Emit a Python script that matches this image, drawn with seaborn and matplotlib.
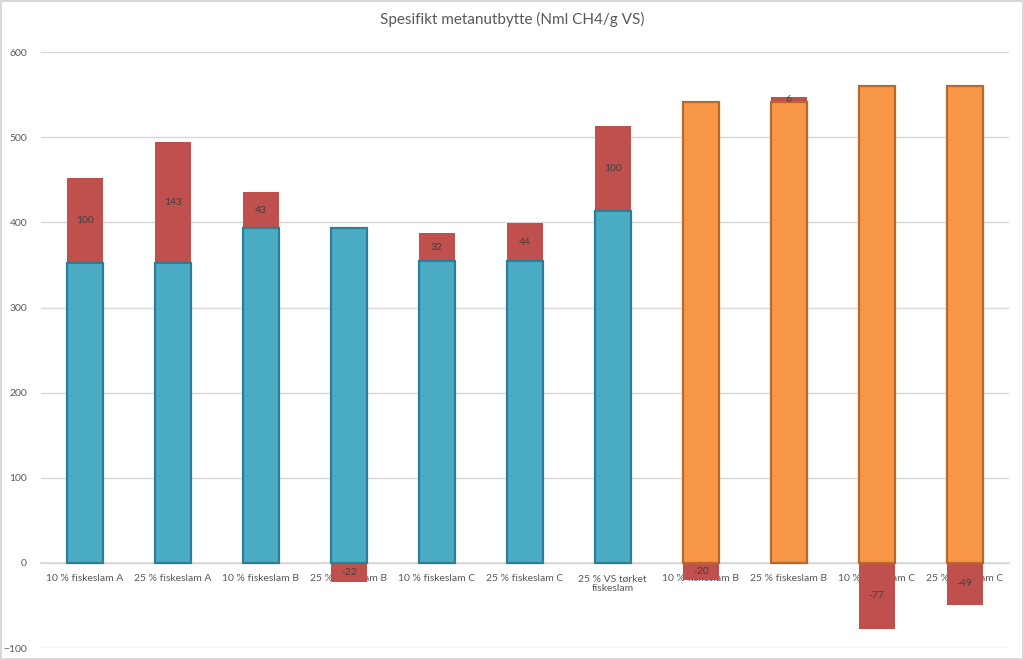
import numpy as np
import pandas as pd
import matplotlib
matplotlib.use('Agg')
import matplotlib.pyplot as plt
import seaborn as sns

# kategorier (navn gjentas, så vi bruker posisjon som nøkkel)
labels = ['10 % fiskeslam A', '25 % fiskeslam A', '10 % fiskeslam B', '25 % fiskeslam B',
          '10 % fiskeslam C', '25 % fiskeslam C', '25 % VS tørket\nfiskeslam',
          '10 % fiskeslam B', '25 % fiskeslam B', '10 % fiskeslam C', '25 % fiskeslam C']
base = [352, 352, 393, 393, 355, 355, 413, 541, 541, 560, 560]
diff = [100, 143, 43, -22, 32, 44, 100, -20, 6, -77, -49]
group = ['blå'] * 7 + ['oransje'] * 4

df = pd.DataFrame({'pos': range(len(labels)), 'base': base, 'diff': diff, 'group': group})
# positive differanser stables oppå basis, negative starter fra 0
df['bottom'] = np.where(df['diff'] > 0, df['base'], 0)

sns.set_theme(style='white')
plt.rcParams['font.family'] = ['Lato', 'DejaVu Sans']
text_col = '#595959'

fig = plt.figure(figsize=(10.24, 6.6), dpi=100)
fig.patch.set_edgecolor('#D9D9D9')
fig.patch.set_linewidth(1.5)
ax = fig.add_axes([0.040, 0.018, 0.945, 0.903])

colors = {'blå': '#4BACC6', 'oransje': '#F79646'}
edges = {'blå': '#2E7F95', 'oransje': '#B8692A'}

# basisstolper
sns.barplot(data=df, x='pos', y='base', hue='group', palette=colors, dodge=False,
            saturation=1, width=0.41, legend=False, ax=ax, zorder=4, linewidth=1.6)
for cont, g in zip(ax.containers, ['blå', 'oransje']):
    for bar in cont:
        bar.set_edgecolor(edges[g])
    ax.bar_label(cont, label_type='center', fontsize=7.5, color='#404040')

n_base = len(ax.containers)
# differanse (rød)
sns.barplot(data=df, x='pos', y='diff', bottom=df['bottom'].values, color='#C0504D',
            saturation=1, width=0.41, ax=ax, zorder=3, linewidth=0)
red = ax.containers[n_base]
ax.bar_label(red, labels=[str(v) for v in diff], label_type='center',
             fontsize=7.5, color='#404040', zorder=5)

ax.set_ylim(-100, 600)
ax.set_xlim(-0.5, len(labels) - 0.5)
ax.set_yticks(range(-100, 601, 100))
ax.set_xticks(range(len(labels)))
ax.set_xticklabels(labels, linespacing=1.35)
ax.tick_params(axis='y', labelsize=7.5, colors=text_col, length=0, pad=10)
ax.tick_params(axis='x', labelsize=7.5, colors=text_col, length=0, pad=8)
ax.yaxis.grid(True, color='#D9D9D9', linewidth=1)
ax.set_axisbelow(True)
ax.set_xlabel('')
ax.set_ylabel('')
for s in ['top', 'right', 'left']:
    ax.spines[s].set_visible(False)
ax.spines['bottom'].set_position(('data', 0))
ax.spines['bottom'].set_color('#D9D9D9')
ax.xaxis.set_zorder(2)

fig.suptitle('Spesifikt metanutbytte (Nml CH4/g VS)', y=0.982, fontsize=11,
             color=text_col)

fig.savefig('out.png', dpi=100, edgecolor=fig.get_edgecolor())
